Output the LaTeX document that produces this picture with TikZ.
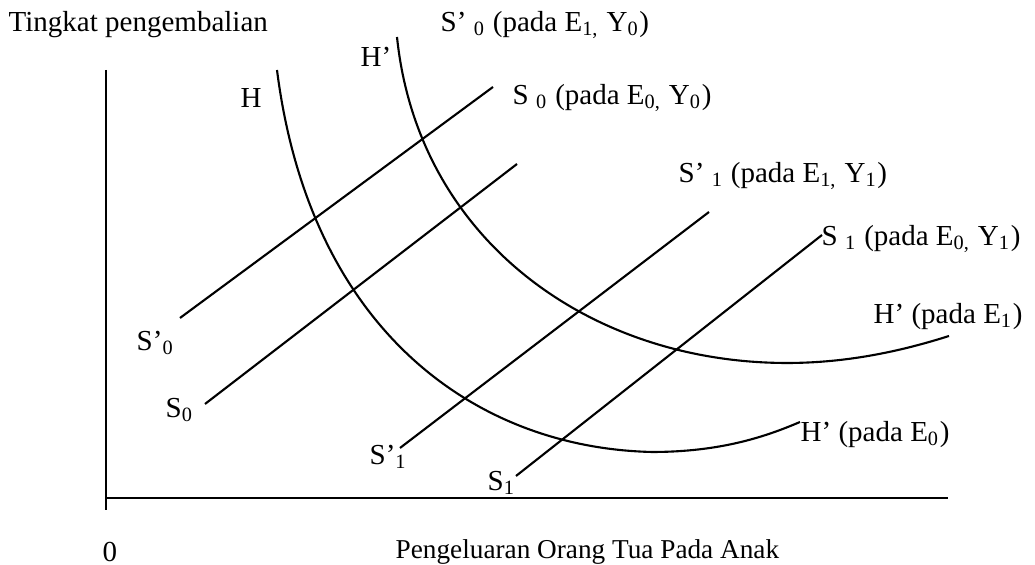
\documentclass[tikz,border=0pt]{standalone}
\usepackage{fontspec}
\setmainfont{Liberation Serif}
\usetikzlibrary{positioning}

\begin{document}
\begin{tikzpicture}[
    x=0.01cm, y=-0.01cm,
    lbl/.style={inner sep=0pt, anchor=west, font=\fontsize{8.25}{9.9}\selectfont},
    axis/.style={line width=0.8pt},
    curve/.style={line width=0.6pt},
    supply/.style={line width=0.6pt}
]
    \useasboundingbox (0,0) rectangle (1035,565);

    % axes
    \coordinate (ytop) at (106,70);
    \coordinate (ybot) at (106,510);
    \coordinate (xleft) at (106,498);
    \coordinate (xright) at (948,498);
    \draw[axis] (ytop) -- (ybot);
    \draw[axis] (xleft) -- (xright);

    \node[lbl] (ylab) at (8,25) {Tingkat pengembalian};
    \node[lbl] (zero) at (102,552) {0};
    \node[lbl, font=\fontsize{7.75}{9.3}\selectfont] (xlab) at (395,552) {Pengeluaran Orang Tua Pada Anak};

    % curves H and H'
    \coordinate (ha) at (277,70);
    \coordinate (hmin) at (652,452);
    \coordinate (hb) at (800,422);
    \draw[curve] (ha) .. controls (310,330) and (475,448) .. (hmin)
        .. controls (720,452) and (765,437) .. (hb);
    \coordinate (hpa) at (397,37);
    \coordinate (hpmin) at (787,363);
    \coordinate (hpb) at (949,336);
    \draw[curve] (hpa) .. controls (418,240) and (590,363) .. (hpmin)
        .. controls (850,363) and (905,350) .. (hpb);

    \node[lbl] (hlab) at (240,98) {H};
    \node[lbl] (hplab) at (360,57) {H’};
    \node[lbl] (hpe1) at (873,317) {H’ (pada E\textsubscript{1})};
    \node[lbl] (hpe0) at (800,435) {H’ (pada E\textsubscript{0})};

    % supply lines
    \coordinate (spa) at (180,318);  \coordinate (spb) at (493,87);
    \coordinate (sa) at (205,404);   \coordinate (sb) at (517,164);
    \coordinate (tpa) at (400,448);  \coordinate (tpb) at (709,212);
    \coordinate (ta) at (516,476);   \coordinate (tb) at (822,235);
    \draw[supply] (spa) -- (spb);
    \draw[supply] (sa) -- (sb);
    \draw[supply] (tpa) -- (tpb);
    \draw[supply] (ta) -- (tb);

    \node[lbl] (spbot) at (136,343) {S’\textsubscript{0}};
    \node[lbl] (sbot) at (165,410) {S\textsubscript{0}};
    \node[lbl] (tpbot) at (369,457) {S’\textsubscript{1}};
    \node[lbl] (tbot) at (487,483) {S\textsubscript{1}};

    \node[lbl] (sptop) at (440,25) {S’ \textsubscript{0} (pada E\textsubscript{1,} Y\textsubscript{0})};
    \node[lbl] (stop) at (512,98) {S \textsubscript{0} (pada E\textsubscript{0,} Y\textsubscript{0})};
    \node[lbl] (tptop) at (678,176) {S’ \textsubscript{1} (pada E\textsubscript{1,} Y\textsubscript{1})};
    \node[lbl] (ttop) at (821,239) {S \textsubscript{1} (pada E\textsubscript{0,} Y\textsubscript{1})};
\end{tikzpicture}
\end{document}
